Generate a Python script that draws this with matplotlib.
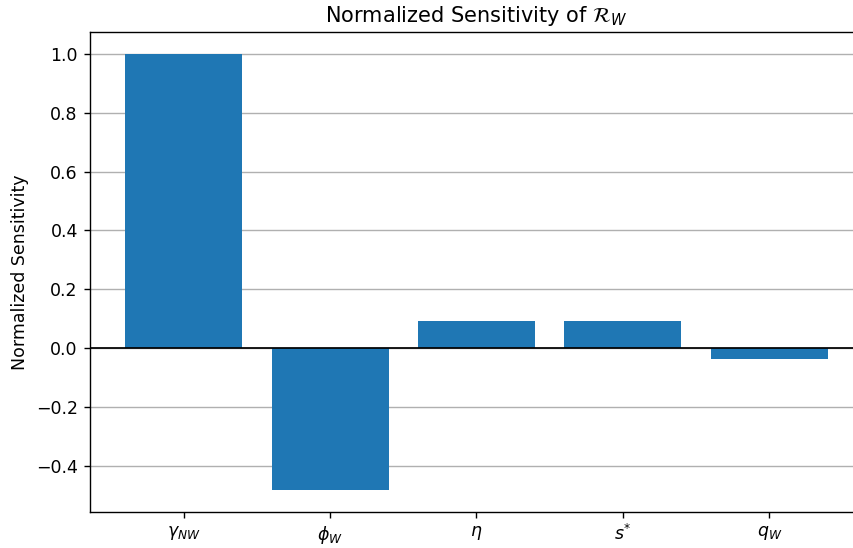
import matplotlib
matplotlib.use("Agg")
import matplotlib.pyplot as plt

params = [r'$\gamma_{NW}$', r'$\phi_W$', r'$\eta$', r'$s^{*}$', r'$q_W$']
sensitivity = [1.0, -0.483, 0.092, 0.092, -0.037]

DPI = 125
fig = plt.figure(figsize=(853 / DPI, 548 / DPI), dpi=DPI)
ax = fig.add_axes([90/853, 1 - 512/548, (863 - 90)/853, (512 - 32)/548])
ax.bar(range(len(params)), sensitivity, color='#1f77b4')
ax.set_xticks(range(len(params)))
ax.set_xticklabels(params)
ax.axhline(0, color='black', linewidth=1)
ax.set_ylabel('Normalized Sensitivity')
ax.set_title(r'Normalized Sensitivity of $\mathcal{R}_W$')
ax.yaxis.grid(True, color='#b0b0b0')
ax.set_axisbelow(True)
fig.savefig('out.png', dpi=DPI)
